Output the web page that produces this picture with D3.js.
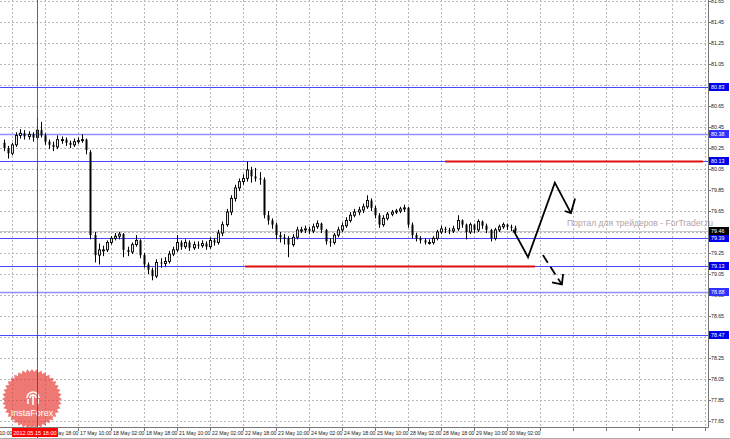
<!DOCTYPE html>
<html><head><meta charset="utf-8">
<script src="https://cdn.jsdelivr.net/npm/d3@7/dist/d3.min.js"></script>
<style>html,body{margin:0;padding:0;background:#fff;}svg{display:block;}</style>
</head><body>
<svg id="c" width="730" height="439"></svg>
<script>
// ---------- DATA ----------
const timeLabels = ["15 May 10:00","16 May 02:00","16 May 18:00","17 May 10:00","18 May 02:00","18 May 18:00",
  "21 May 10:00","22 May 02:00","22 May 18:00","23 May 10:00","24 May 02:00","24 May 18:00","25 May 10:00",
  "28 May 02:00","28 May 18:00","29 May 10:00","30 May 02:00","","","","","","",""];
const firstLabelBar = -6;      // bar index of first time label
const barsPerLabel = 8;
const priceTicks = [77.65,77.85,78.05,78.25,78.45,78.65,78.85,79.05,79.25,79.45,79.65,79.85,80.05,80.25,80.45,80.65,80.85,81.05,81.25,81.45,81.65];
const levelValues = [80.83, 80.38, 80.13, 79.39, 79.13, 78.88, 78.47];
const levelLabels = ["80.83","80.38","80.13","79.39","79.13","78.88","78.47"];
const currentPrice = 79.46;
const crosshairBar = 8.05;
const crosshairLabel = "2012.05.15 18:00";
const openP = [
 80.30,80.25,80.20,80.28,80.37,80.39,80.36,80.38,80.35,80.42,
 80.37,80.31,80.28,80.26,80.33,80.33,80.30,80.28,80.31,80.32,
 80.33,80.21,79.42,79.23,79.28,79.28,79.35,79.39,79.41,79.43,
 79.28,79.26,79.33,79.37,79.23,79.14,79.09,79.03,79.16,79.15,
 79.17,79.24,79.28,79.35,79.31,79.35,79.30,79.33,79.32,79.34,
 79.31,79.37,79.35,79.44,79.52,79.64,79.77,79.87,79.93,79.96,
 80.04,79.98,79.96,79.95,79.61,79.56,79.52,79.42,79.40,79.39,
 79.33,79.40,79.47,79.47,79.48,79.46,79.50,79.53,79.47,79.36,
 79.35,79.42,79.47,79.51,79.56,79.61,79.64,79.66,79.69,79.75,
 79.68,79.61,79.52,79.58,79.62,79.64,79.65,79.67,79.68,79.52,
 79.42,79.39,79.37,79.35,79.35,79.39,79.45,79.48,79.47,79.46,
 79.48,79.56,79.52,79.45,79.52,79.47,79.55,79.51,79.47,79.39,
 79.47,79.50,79.52,79.50,79.49];
const closeP = [
 80.25,80.20,80.28,80.37,80.39,80.36,80.38,80.35,80.42,80.37,
 80.31,80.28,80.26,80.33,80.33,80.30,80.28,80.31,80.32,80.33,
 80.23,79.42,79.23,79.28,79.28,79.35,79.39,79.41,79.43,79.28,
 79.26,79.33,79.37,79.23,79.14,79.09,79.03,79.16,79.15,79.17,
 79.24,79.28,79.35,79.31,79.35,79.30,79.33,79.32,79.34,79.31,
 79.37,79.35,79.44,79.52,79.64,79.77,79.87,79.93,79.96,80.04,
 79.98,79.96,79.95,79.61,79.56,79.52,79.42,79.40,79.39,79.33,
 79.40,79.47,79.47,79.48,79.46,79.50,79.53,79.47,79.36,79.35,
 79.42,79.47,79.51,79.56,79.61,79.64,79.66,79.69,79.75,79.68,
 79.61,79.52,79.58,79.62,79.64,79.65,79.67,79.68,79.52,79.42,
 79.39,79.37,79.35,79.35,79.39,79.45,79.48,79.47,79.46,79.48,
 79.56,79.52,79.45,79.52,79.47,79.55,79.51,79.47,79.39,79.47,
 79.50,79.52,79.50,79.49,79.46];
const highP = [
 80.33,80.27,80.30,80.40,80.43,80.42,80.41,80.40,80.54,80.50,
 80.39,80.33,80.31,80.37,80.36,80.35,80.32,80.34,80.35,80.38,
 80.34,80.23,79.45,79.34,79.32,79.37,79.41,79.44,79.45,79.44,
 79.31,79.35,79.42,79.38,79.25,79.16,79.11,79.19,79.20,79.21,
 79.27,79.31,79.42,79.37,79.38,79.37,79.36,79.36,79.37,79.36,
 79.40,79.39,79.47,79.55,79.67,79.80,79.90,79.96,80.00,80.12,
 80.07,80.06,80.02,79.97,79.65,79.58,79.54,79.45,79.43,79.41,
 79.43,79.50,79.50,79.51,79.50,79.53,79.56,79.54,79.48,79.39,
 79.44,79.50,79.54,79.59,79.64,79.67,79.69,79.72,79.80,79.77,
 79.70,79.63,79.61,79.64,79.66,79.67,79.69,79.71,79.69,79.54,
 79.44,79.41,79.39,79.38,79.41,79.47,79.51,79.50,79.49,79.51,
 79.61,79.57,79.53,79.54,79.53,79.57,79.56,79.53,79.48,79.49,
 79.52,79.54,79.53,79.52,79.51];
const lowP = [
 80.22,80.15,80.18,80.26,80.34,80.33,80.33,80.31,80.33,80.35,
 80.28,80.24,80.22,80.24,80.29,80.27,80.25,80.26,80.29,80.30,
 80.19,79.38,79.16,79.14,79.22,79.26,79.33,79.37,79.38,79.21,
 79.22,79.24,79.31,79.20,79.11,79.05,78.99,79.01,79.11,79.12,
 79.15,79.22,79.26,79.28,79.29,79.27,79.28,79.29,79.30,79.28,
 79.29,79.32,79.33,79.41,79.50,79.61,79.74,79.84,79.90,79.93,
 79.92,79.93,79.90,79.58,79.52,79.48,79.38,79.35,79.33,79.21,
 79.31,79.38,79.44,79.44,79.43,79.44,79.48,79.44,79.33,79.31,
 79.33,79.40,79.45,79.49,79.54,79.59,79.61,79.63,79.67,79.65,
 79.58,79.49,79.50,79.56,79.60,79.62,79.63,79.64,79.49,79.39,
 79.36,79.34,79.33,79.33,79.33,79.37,79.43,79.44,79.43,79.44,
 79.46,79.49,79.38,79.43,79.44,79.45,79.48,79.44,79.36,79.37,
 79.45,79.48,79.47,79.46,79.44];
// red support/resistance segments: price, bar from, bar to
const redPrices = [80.13, 79.13];
const redFrom = [107, 58.5];
const redTo = [169.5, 128.8];
// forecast paths (bar index, price)
const forecastMain = [[123.5,79.47],[127.1,79.21],[133.6,79.92],[137.5,79.63]];
const forecastMainHead = [[136.0,79.65],[137.5,79.63],[138.5,79.77]];
const forecastAlt = [[130.7,79.23],[135.3,78.95]];
const forecastAltHead = [[132.9,78.97],[135.3,78.95],[135.6,79.05]];
const watermark = "Портал для трейдеров - ForTrader.ru";
const logoText = "InstaForex";

// ---------- DRAW ----------
const svg = d3.select("#c");
const W = 708, H = 427;
const x = d3.scaleLinear().domain([0, barsPerLabel]).range([3.75, 3.75 + 33]);
const y = d3.scaleLinear().domain([77.65, 81.65]).range([421, 1]);
const bars = openP.map((o, i) => ({i, o, c: closeP[i], h: highP[i], l: lowP[i]}));
const font = "'Liberation Sans', Arial, sans-serif";

svg.append("clipPath").attr("id","pc").append("rect").attr("x",0).attr("y",0).attr("width",W).attr("height",H);
const plot = svg.append("g").attr("clip-path","url(#pc)");

// grid
const tickBars = timeLabels.map((t, k) => firstLabelBar + k * barsPerLabel);
plot.append("g").selectAll("line").data(priceTicks).join("line")
  .attr("x1",0).attr("x2",W).attr("y1",d=>Math.round(y(d))+0.5).attr("y2",d=>Math.round(y(d))+0.5)
  .attr("stroke","#b8b8b8").attr("stroke-dasharray","2,2");
plot.append("g").selectAll("line").data(tickBars).join("line")
  .attr("x1",d=>Math.round(x(d))+0.5).attr("x2",d=>Math.round(x(d))+0.5).attr("y1",0).attr("y2",H)
  .attr("stroke","#b8b8b8").attr("stroke-dasharray","2,2");

// current price line
plot.append("line").attr("x1",0).attr("x2",W).attr("y1",Math.round(y(currentPrice))+0.5).attr("y2",Math.round(y(currentPrice))+0.5)
  .attr("stroke","#c8c8c8");

// level lines
const lightLevels = new Set([80.38, 78.88]);
plot.append("g").selectAll("line").data(levelValues).join("line")
  .attr("x1",0).attr("x2",W).attr("y1",d=>Math.round(y(d))+0.5).attr("y2",d=>Math.round(y(d))+0.5)
  .attr("stroke",d=>lightLevels.has(d)?"#9090ff":"#4848ff").attr("stroke-width",d=>lightLevels.has(d)?1.6:1);

// red segments
plot.append("g").selectAll("line").data(redPrices).join("line")
  .attr("x1",(d,k)=>x(redFrom[k])).attr("x2",(d,k)=>x(redTo[k]))
  .attr("y1",d=>Math.round(y(d))+0.5).attr("y2",d=>Math.round(y(d))+0.5)
  .attr("stroke","#e01010").attr("stroke-width",2);

// candles
const cg = plot.append("g");
cg.selectAll("line.w").data(bars).join("line").attr("class","w")
  .attr("x1",d=>Math.round(x(d.i))+0.5).attr("x2",d=>Math.round(x(d.i))+0.5)
  .attr("y1",d=>y(d.h)).attr("y2",d=>y(d.l)).attr("stroke","#000").attr("stroke-width",1);
cg.selectAll("rect").data(bars).join("rect")
  .attr("x",d=>Math.round(x(d.i))-0.5).attr("width",2)
  .attr("y",d=>y(Math.max(d.o,d.c))).attr("height",d=>Math.max(1,Math.abs(y(d.o)-y(d.c))))
  .attr("fill",d=>d.c>=d.o?"#e8e8e8":"#000").attr("stroke","#000").attr("stroke-width",d=>d.c>=d.o?0.9:0);

// forecasts
const ln = d3.line().x(d=>x(d[0])).y(d=>y(d[1]));
plot.append("path").attr("d",ln(forecastMain)).attr("fill","none").attr("stroke","#000").attr("stroke-width",1.8).attr("stroke-linejoin","miter");
plot.append("path").attr("d",ln(forecastMainHead)).attr("fill","none").attr("stroke","#000").attr("stroke-width",1.8);
plot.append("path").attr("d",ln(forecastAlt)).attr("fill","none").attr("stroke","#000").attr("stroke-width",1.8).attr("stroke-dasharray","9,5");
plot.append("path").attr("d",ln(forecastAltHead)).attr("fill","none").attr("stroke","#000").attr("stroke-width",1.8);

// watermark
svg.append("text").attr("x",567).attr("y",226).text(watermark)
  .attr("font-family",font).attr("font-size",8.6).attr("fill","#b4a4a6");

// logo (starburst)
const nSp = 40, rO = 30, rI = 27, cx = 32, cy = 399;
const pts = d3.range(nSp*2).map(k => [k*Math.PI/nSp, k%2===0 ? rO : rI]);
svg.append("path").attr("d", d3.lineRadial().angle(d=>d[0]).radius(d=>d[1]).curve(d3.curveLinearClosed)(pts))
  .attr("transform",`translate(${cx},${cy})`).attr("fill","#e63a32").attr("opacity",0.68);
const ic = svg.append("g").attr("transform",`translate(${cx+1},${cy-2})`).attr("fill","none").attr("stroke","#fff").attr("stroke-width",1.6);
ic.append("path").attr("d","M-6,1 A6,6 0 0 1 6,1");
ic.append("path").attr("d","M-3,1 A3,3 0 0 1 3,1");
ic.append("line").attr("x1",0).attr("x2",0).attr("y1",-2).attr("y2",8);
ic.append("line").attr("x1",-5).attr("x2",-5).attr("y1",2).attr("y2",7);
ic.append("line").attr("x1",5).attr("x2",5).attr("y1",2).attr("y2",7);
svg.append("text").attr("x",cx).attr("y",416).attr("text-anchor","middle").text(logoText)
  .attr("font-family",font).attr("font-size",9).attr("fill","#fff");

// crosshair vertical (on top)
svg.append("line").attr("x1",Math.round(x(crosshairBar))+0.5).attr("x2",Math.round(x(crosshairBar))+0.5)
  .attr("y1",0).attr("y2",439).attr("stroke","#ff0000").attr("stroke-width",1).attr("opacity",0.85);

// frame
svg.append("line").attr("x1",W+0.5).attr("x2",W+0.5).attr("y1",0).attr("y2",H+0.5).attr("stroke","#777");
svg.append("line").attr("x1",0).attr("x2",W+0.5).attr("y1",H+0.5).attr("y2",H+0.5).attr("stroke","#777");
svg.append("line").attr("x1",0).attr("x2",730).attr("y1",438.5).attr("y2",438.5).attr("stroke","#aaa");

// right axis
const ra = svg.append("g");
ra.selectAll("line").data(priceTicks).join("line")
  .attr("x1",W).attr("x2",W+3).attr("y1",d=>Math.round(y(d))+0.5).attr("y2",d=>Math.round(y(d))+0.5).attr("stroke","#777");
ra.selectAll("text").data(priceTicks).join("text")
  .attr("x",711).attr("y",d=>y(d)+2).text(d=>d.toFixed(2))
  .attr("font-family",font).attr("font-size",5.2).attr("fill","#222");
// level labels
const lg = svg.append("g").selectAll("g").data(levelValues).join("g")
  .attr("transform",d=>`translate(709,${Math.round(y(d))-4})`);
lg.append("rect").attr("width",20).attr("height",8).attr("fill",d=>lightLevels.has(d)?"#3030ff":"#0000ee");
lg.append("text").attr("x",2).attr("y",6).text((d,k)=>levelLabels[k])
  .attr("font-family",font).attr("font-size",5.4).attr("fill","#fff");
const cp = svg.append("g").attr("transform",`translate(709,${Math.round(y(currentPrice))-4})`);
cp.append("rect").attr("width",20).attr("height",8).attr("fill","#000");
cp.append("text").attr("x",2).attr("y",6).text(currentPrice.toFixed(2)).attr("font-family",font).attr("font-size",5.4).attr("fill","#fff");

// bottom axis
const ba = svg.append("g");
ba.selectAll("line").data(tickBars).join("line")
  .attr("x1",d=>Math.round(x(d))+0.5).attr("x2",d=>Math.round(x(d))+0.5).attr("y1",H).attr("y2",H+4).attr("stroke","#777");
ba.selectAll("text").data(timeLabels).join("text")
  .attr("x",(d,k)=>x(tickBars[k])+2).attr("y",435).text(d=>d)
  .attr("font-family",font).attr("font-size",5.2).attr("fill","#222");
// crosshair date label
const cl = svg.append("g").attr("transform",`translate(${x(crosshairBar)-25},428)`);
cl.append("rect").attr("width",46).attr("height",9).attr("fill","#ff0000");
cl.append("text").attr("x",23).attr("y",6.8).attr("text-anchor","middle").text(crosshairLabel)
  .attr("font-family",font).attr("font-size",5.6).attr("fill","#fff");
</script>
</body></html>
